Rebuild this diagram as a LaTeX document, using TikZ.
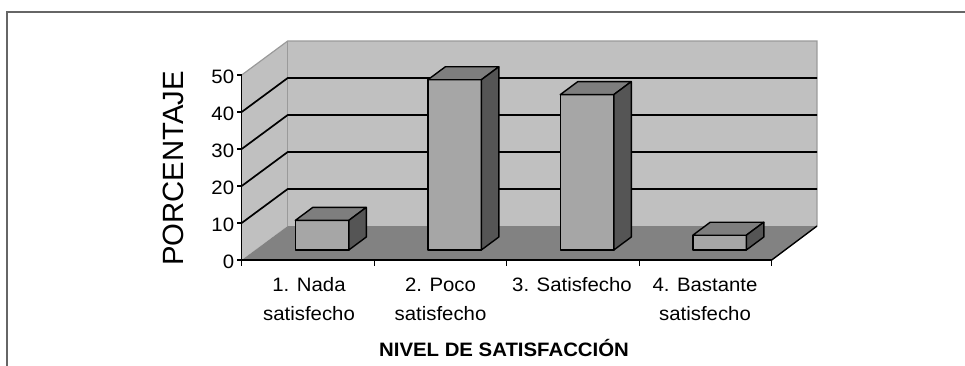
\documentclass[tikz,border=0pt]{standalone}
\usepackage{fontspec}
\setmainfont[FakeStretch=1.05]{Liberation Sans}
\newfontfamily\plainsans{Liberation Sans}
\definecolor{wallgray}{HTML}{C0C0C0}
\definecolor{floorgray}{HTML}{828282}
\definecolor{barfront}{HTML}{A6A6A6}
\definecolor{bartop}{HTML}{7E7E7E}
\definecolor{barside}{HTML}{555555}
\definecolor{edgegray}{HTML}{9A9A9A}
\definecolor{framegray}{HTML}{666666}
\begin{document}
\begin{tikzpicture}[x=1pt,y=-1pt,
  gridline/.style={black,line width=1.7pt},
  axisline/.style={black,line width=1.4pt},
  baredge/.style={black,line width=1.4pt,line join=round},
  ticklbl/.style={font=\fontsize{19.4}{23}\selectfont,inner sep=0pt,anchor=base east},
  catlbl/.style={font=\fontsize{19.4}{23}\selectfont,inner sep=0pt,anchor=base},
  framestyle/.style={framegray,line width=1.6pt}]
\useasboundingbox (0,0) rectangle (965,366);
% frame
\draw[framestyle] (6.7,366) -- (6.7,12) -- (965,12);
% back wall
\fill[wallgray] (287.7,41) rectangle (817,226);
% side wall
\fill[wallgray] (241.7,260) -- (287.7,226) -- (287.7,41) -- (241.7,75) -- cycle;
% floor
\fill[floorgray] (241.7,260) -- (771.7,260) -- (817,226) -- (287.7,226) -- cycle;
% light edges
\draw[edgegray,line width=1.2pt] (241.7,75) -- (287.7,41) -- (817,41) -- (817,226);
\draw[edgegray,line width=0.7pt] (287.7,41) -- (287.7,226);
% grid lines
\foreach \k in {1,2,3,4}{
  \draw[gridline] (241.7,{260-37*\k}) -- (287.7,{226-37*\k}) -- (817,{226-37*\k});
}
% floor right edge
\draw[axisline] (771.7,260) -- (817,226);
% axes
\draw[axisline] (241.7,75) -- (241.7,260) -- (771.7,260);
\foreach \k in {0,...,5}{
  \draw[axisline] (237,{260-37*\k}) -- (241.7,{260-37*\k});
}
\foreach \k in {0,...,4}{
  \draw[axisline] ({241.7+132.5*\k},260) -- ({241.7+132.5*\k},265.5);
}
% tick labels
\node[ticklbl] (t0) at (234.3,268.6) {0};
\node[ticklbl] (t1) at (234.3,231.6) {10};
\node[ticklbl] (t2) at (234.3,194.6) {20};
\node[ticklbl] (t3) at (234.3,157.6) {30};
\node[ticklbl] (t4) at (234.3,120.6) {40};
\node[ticklbl] (t5) at (234.3,83.6) {50};
% bars
\foreach \i/\v in {1/8,2/46,3/42,4/4}{
  \pgfmathsetmacro{\L}{241.7+132.5*(\i-1)+53.6}
  \pgfmathsetmacro{\T}{250-3.7*\v}
  \filldraw[baredge,fill=barfront] (\L,250) rectangle ({\L+53.5},\T);
  \filldraw[baredge,fill=bartop] (\L,\T) -- ({\L+17.5},{\T-13}) -- ({\L+71},{\T-13}) -- ({\L+53.5},\T) -- cycle;
  \filldraw[baredge,fill=barside] ({\L+53.5},250) -- ({\L+71},237) -- ({\L+71},{\T-13}) -- ({\L+53.5},\T) -- cycle;
}
% category labels
\node[catlbl] (c1a) at (309,291) {1. Nada};
\node[catlbl] (c1b) at (309,320) {satisfecho};
\node[catlbl] (c2a) at (440.5,291) {2. Poco};
\node[catlbl] (c2b) at (440.5,320) {satisfecho};
\node[catlbl] (c3a) at (572,291) {3. Satisfecho};
\node[catlbl] (c4a) at (705,291) {4. Bastante};
\node[catlbl] (c4b) at (705,320) {satisfecho};
% axis titles
\node[font=\bfseries\fontsize{19.4}{23}\selectfont,inner sep=0pt,anchor=base] (xtitle) at (504,356.5) {NIVEL DE SATISFACCIÓN};
\node[font=\plainsans\fontsize{29.3}{33}\selectfont,inner sep=0pt,rotate=90] (ytitle) at (173,168.5) {PORCENTAJE};
\end{tikzpicture}
\end{document}
